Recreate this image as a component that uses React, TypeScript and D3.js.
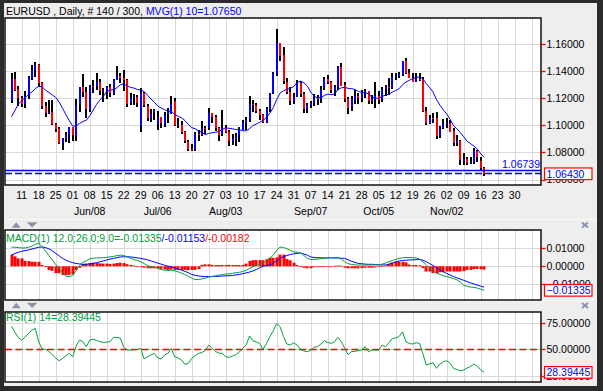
import React, { useEffect, useRef } from 'react';
import * as d3 from 'd3';

// EURUSD daily bars, 6 May - 17 Nov 2015 (140 bars shown)
const opens = [
  1.1183, 1.1345, 1.1265, 1.1200, 1.1157, 1.1214, 1.1347, 1.1410, 1.1446, 1.1316,
  1.1146, 1.1093, 1.1101, 1.1013, 1.0975, 1.0873, 1.0899, 1.0932, 1.0987, 1.0927,
  1.1152, 1.1281, 1.1243, 1.1115, 1.1290, 1.1290, 1.1321, 1.1257, 1.1264, 1.1286,
  1.1242, 1.1335, 1.1365, 1.1350, 1.1337, 1.1163, 1.1201, 1.1206, 1.0990, 1.1236,
  1.1146, 1.1054, 1.1087, 1.1010, 1.1058, 1.1015, 1.1080, 1.1095, 1.1180, 1.1003,
  1.1003, 1.0950, 1.0880, 1.0826, 1.0823, 1.0935, 1.0930, 1.0983, 1.0982, 1.1089,
  1.1061, 1.0982, 1.0933, 1.0980, 1.0954, 1.0885, 1.0901, 1.0924, 1.0970, 1.1018,
  1.1040, 1.1158, 1.1148, 1.1104, 1.1078, 1.1025, 1.1122, 1.1239, 1.1384, 1.1610,
  1.1516, 1.1323, 1.1248, 1.1185, 1.1211, 1.1313, 1.1229, 1.1117, 1.1150, 1.1168,
  1.1204, 1.1200, 1.1271, 1.1339, 1.1318, 1.1261, 1.1286, 1.1432, 1.1295, 1.1193,
  1.1130, 1.1184, 1.1214, 1.1196, 1.1243, 1.1252, 1.1177, 1.1194, 1.1216, 1.1190,
  1.1266, 1.1283, 1.1276, 1.1358, 1.1361, 1.1379, 1.1474, 1.1384, 1.1349, 1.1322,
  1.1345, 1.1343, 1.1108, 1.1016, 1.1055, 1.1053, 1.0921, 1.0975, 1.1007, 1.1018,
  1.0955, 1.0864, 1.0881, 1.0739, 1.0751, 1.0722, 1.0733, 1.0813, 1.0735, 1.0685,
];
const highs = [
  1.1388, 1.1391, 1.1292, 1.1219, 1.1254, 1.1367, 1.1445, 1.1467, 1.1451, 1.1322,
  1.1174, 1.1186, 1.1186, 1.1020, 1.0990, 1.0905, 1.0950, 1.0988, 1.0990, 1.1196,
  1.1285, 1.1380, 1.1282, 1.1295, 1.1334, 1.1385, 1.1339, 1.1278, 1.1287, 1.1304,
  1.1339, 1.1436, 1.1389, 1.1410, 1.1340, 1.1239, 1.1228, 1.1222, 1.1279, 1.1247,
  1.1154, 1.1118, 1.1122, 1.1109, 1.1064, 1.1097, 1.1126, 1.1215, 1.1200, 1.1055,
  1.1033, 1.0960, 1.0893, 1.0859, 1.0951, 1.0966, 1.1030, 1.0997, 1.1129, 1.1094,
  1.1073, 1.0987, 1.1114, 1.0999, 1.0967, 1.0934, 1.0945, 1.0985, 1.1036, 1.1060,
  1.1214, 1.1187, 1.1165, 1.1124, 1.1082, 1.1135, 1.1242, 1.1390, 1.1714, 1.1611,
  1.1577, 1.1347, 1.1286, 1.1236, 1.1332, 1.1330, 1.1243, 1.1162, 1.1178, 1.1232,
  1.1226, 1.1293, 1.1354, 1.1371, 1.1330, 1.1298, 1.1437, 1.1460, 1.1317, 1.1212,
  1.1214, 1.1260, 1.1240, 1.1259, 1.1267, 1.1257, 1.1224, 1.1317, 1.1254, 1.1281,
  1.1295, 1.1346, 1.1387, 1.1387, 1.1395, 1.1475, 1.1495, 1.1416, 1.1389, 1.1387,
  1.1387, 1.1357, 1.1135, 1.1076, 1.1094, 1.1096, 1.0994, 1.1049, 1.1056, 1.1037,
  1.0984, 1.0926, 1.0895, 1.0794, 1.0766, 1.0763, 1.0830, 1.0817, 1.0770, 1.0696,
];
const lows = [
  1.1165, 1.1252, 1.1141, 1.1135, 1.1130, 1.1198, 1.1331, 1.1360, 1.1282, 1.1120,
  1.1062, 1.1080, 1.1005, 1.0953, 1.0866, 1.0819, 1.0874, 1.0867, 1.0886, 1.0888,
  1.1104, 1.1210, 1.1050, 1.1098, 1.1241, 1.1263, 1.1220, 1.1177, 1.1188, 1.1207,
  1.1221, 1.1330, 1.1312, 1.1256, 1.1133, 1.1154, 1.1150, 1.1134, 1.0955, 1.1135,
  1.1032, 1.1024, 1.1040, 1.0968, 1.0985, 1.0986, 1.1017, 1.1083, 1.0991, 1.0983,
  1.0940, 1.0868, 1.0809, 1.0807, 1.0808, 1.0886, 1.0919, 1.0935, 1.0966, 1.1021,
  1.0957, 1.0887, 1.0921, 1.0937, 1.0848, 1.0853, 1.0852, 1.0872, 1.0961, 1.0961,
  1.1025, 1.1096, 1.1088, 1.1040, 1.1017, 1.1018, 1.1105, 1.1228, 1.1369, 1.1479,
  1.1307, 1.1226, 1.1156, 1.1155, 1.1211, 1.1213, 1.1087, 1.1085, 1.1130, 1.1146,
  1.1150, 1.1165, 1.1260, 1.1302, 1.1242, 1.1218, 1.1263, 1.1290, 1.1167, 1.1088,
  1.1106, 1.1160, 1.1160, 1.1168, 1.1203, 1.1160, 1.1160, 1.1128, 1.1157, 1.1170,
  1.1215, 1.1218, 1.1271, 1.1335, 1.1351, 1.1368, 1.1380, 1.1347, 1.1320, 1.1317,
  1.1331, 1.1098, 1.0999, 1.1007, 1.1019, 1.0897, 1.0904, 1.0972, 1.0985, 1.0945,
  1.0850, 1.0847, 1.0709, 1.0706, 1.0707, 1.0712, 1.0712, 1.0727, 1.0674, 1.0632,
];
const closes = [
  1.1345, 1.1265, 1.1200, 1.1157, 1.1214, 1.1347, 1.1410, 1.1446, 1.1316, 1.1146,
  1.1093, 1.1101, 1.1013, 1.0975, 1.0873, 1.0899, 1.0932, 1.0987, 1.0927, 1.1152,
  1.1281, 1.1243, 1.1115, 1.1290, 1.1288, 1.1321, 1.1257, 1.1264, 1.1286, 1.1242,
  1.1335, 1.1365, 1.1350, 1.1337, 1.1163, 1.1201, 1.1206, 1.1165, 1.1236, 1.1146,
  1.1054, 1.1087, 1.1112, 1.1058, 1.1015, 1.1080, 1.1095, 1.1159, 1.1003, 1.1005,
  1.0950, 1.0880, 1.0826, 1.0823, 1.0935, 1.0930, 1.0983, 1.0982, 1.1089, 1.1061,
  1.0982, 1.0933, 1.0980, 1.0954, 1.0885, 1.0901, 1.0924, 1.0970, 1.1018, 1.1040,
  1.1158, 1.1148, 1.1104, 1.1078, 1.1025, 1.1122, 1.1239, 1.1384, 1.1610, 1.1516,
  1.1323, 1.1248, 1.1185, 1.1211, 1.1313, 1.1229, 1.1117, 1.1150, 1.1168, 1.1204,
  1.1200, 1.1271, 1.1339, 1.1318, 1.1261, 1.1286, 1.1432, 1.1295, 1.1193, 1.1130,
  1.1184, 1.1214, 1.1196, 1.1243, 1.1252, 1.1177, 1.1194, 1.1216, 1.1190, 1.1266,
  1.1283, 1.1276, 1.1358, 1.1361, 1.1379, 1.1474, 1.1384, 1.1349, 1.1322, 1.1345,
  1.1343, 1.1108, 1.1016, 1.1055, 1.1053, 1.0921, 1.0975, 1.1007, 1.1018, 1.0955,
  1.0864, 1.0881, 1.0739, 1.0751, 1.0722, 1.0733, 1.0813, 1.0769, 1.0685, 1.0643,
];

// MVG(1) 10
const mvg10 = [
  1.1064, 1.1110, 1.1155, 1.1182, 1.1205, 1.1228, 1.1246, 1.1271, 1.1288, 1.1285,
  1.1259, 1.1243, 1.1224, 1.1206, 1.1172, 1.1127, 1.1079, 1.1034, 1.0995, 1.0995,
  1.1014, 1.1028, 1.1038, 1.1070, 1.1112, 1.1154, 1.1186, 1.1214, 1.1250, 1.1259,
  1.1264, 1.1277, 1.1300, 1.1305, 1.1292, 1.1280, 1.1275, 1.1265, 1.1260, 1.1250,
  1.1222, 1.1195, 1.1171, 1.1143, 1.1128, 1.1116, 1.1105, 1.1104, 1.1081, 1.1067,
  1.1056, 1.1036, 1.1007, 1.0983, 1.0975, 1.0960, 1.0949, 1.0932, 1.0940, 1.0946,
  1.0949, 1.0954, 1.0970, 1.0983, 1.0978, 1.0975, 1.0969, 1.0968, 1.0961, 1.0959,
  1.0976, 1.0998, 1.1010, 1.1023, 1.1037, 1.1059, 1.1090, 1.1132, 1.1191, 1.1238,
  1.1255, 1.1265, 1.1273, 1.1286, 1.1315, 1.1326, 1.1314, 1.1290, 1.1246, 1.1215,
  1.1203, 1.1205, 1.1220, 1.1231, 1.1226, 1.1231, 1.1263, 1.1277, 1.1280, 1.1273,
  1.1271, 1.1265, 1.1251, 1.1243, 1.1243, 1.1232, 1.1208, 1.1200, 1.1200, 1.1213,
  1.1223, 1.1229, 1.1246, 1.1257, 1.1270, 1.1300, 1.1319, 1.1332, 1.1345, 1.1353,
  1.1359, 1.1342, 1.1308, 1.1278, 1.1245, 1.1190, 1.1149, 1.1115, 1.1084, 1.1045,
  1.0997, 1.0975, 1.0947, 1.0916, 1.0883, 1.0865, 1.0848, 1.0825, 1.0791, 1.0765,
];

// MACD(1) 12;26;9
const macdLine = [
  0.0107, 0.0106, 0.0104, 0.0102, 0.0102, 0.0106, 0.0112, 0.0122, 0.0126, 0.0110,
  0.0085, 0.0060, 0.0035, 0.0010, -0.0012, -0.0035, -0.0055, -0.0058, -0.0050, -0.0025,
  0.0005, 0.0022, 0.0030, 0.0042, 0.0045, 0.0047, 0.0047, 0.0048, 0.0050, 0.0052,
  0.0055, 0.0059, 0.0062, 0.0060, 0.0052, 0.0045, 0.0038, 0.0032, 0.0025, 0.0015,
  0.0005, -0.0002, -0.0006, -0.0012, -0.0018, -0.0021, -0.0023, -0.0022, -0.0025, -0.0030,
  -0.0038, -0.0046, -0.0055, -0.0065, -0.0074, -0.0073, -0.0070, -0.0066, -0.0060, -0.0056,
  -0.0053, -0.0049, -0.0046, -0.0043, -0.0042, -0.0039, -0.0036, -0.0033, -0.0029, -0.0022,
  -0.0012, -0.0003, 0.0006, 0.0012, 0.0018, 0.0032, 0.0046, 0.0062, 0.0090, 0.0107,
  0.0104, 0.0098, 0.0088, 0.0080, 0.0078, 0.0076, 0.0060, 0.0044, 0.0038, 0.0038,
  0.0040, 0.0042, 0.0044, 0.0046, 0.0048, 0.0048, 0.0050, 0.0040, 0.0025, 0.0015,
  0.0010, 0.0008, 0.0007, 0.0007, 0.0007, 0.0007, 0.0008, 0.0008, 0.0008, 0.0012,
  0.0018, 0.0025, 0.0032, 0.0038, 0.0044, 0.0048, 0.0049, 0.0049, 0.0048, 0.0047,
  0.0040, 0.0025, 0.0008, -0.0011, -0.0025, -0.0038, -0.0045, -0.0052, -0.0057, -0.0062,
  -0.0068, -0.0075, -0.0088, -0.0105, -0.0111, -0.0116, -0.0117, -0.0121, -0.0127, -0.01335,
];
const macdSignal = [
  0.0062, 0.0071, 0.0078, 0.0083, 0.0087, 0.0091, 0.0096, 0.0101, 0.0106, 0.0107,
  0.0104, 0.0097, 0.0086, 0.0072, 0.0058, 0.0044, 0.0034, 0.0026, 0.0020, 0.0016,
  0.0013, 0.0011, 0.0011, 0.0013, 0.0016, 0.0020, 0.0025, 0.0030, 0.0035, 0.0040,
  0.0044, 0.0048, 0.0052, 0.0053, 0.0053, 0.0052, 0.0050, 0.0047, 0.0044, 0.0040,
  0.0036, 0.0030, 0.0024, 0.0018, 0.0012, 0.0006, 0.0001, -0.0003, -0.0009, -0.0015,
  -0.0021, -0.0028, -0.0036, -0.0045, -0.0050, -0.0054, -0.0056, -0.0057, -0.0057, -0.0057,
  -0.0056, -0.0055, -0.0054, -0.0053, -0.0052, -0.0051, -0.0048, -0.0045, -0.0041, -0.0037,
  -0.0032, -0.0026, -0.0018, -0.0008, 0.0000, 0.0004, 0.0008, 0.0018, 0.0030, 0.0044,
  0.0054, 0.0060, 0.0065, 0.0069, 0.0072, 0.0074, 0.0068, 0.0062, 0.0052, 0.0049,
  0.0048, 0.0047, 0.0047, 0.0047, 0.0047, 0.0046, 0.0046, 0.0045, 0.0044, 0.0036,
  0.0028, 0.0022, 0.0016, 0.0014, 0.0012, 0.0011, 0.0011, 0.0010, 0.0009, 0.0008,
  0.0007, 0.0012, 0.0018, 0.0025, 0.0029, 0.0032, 0.0034, 0.0035, 0.0036, 0.0037,
  0.0038, 0.0034, 0.0025, 0.0015, 0.0004, -0.0008, -0.0020, -0.0030, -0.0040, -0.0048,
  -0.0057, -0.0064, -0.0071, -0.0078, -0.0085, -0.0092, -0.0098, -0.0104, -0.0110, -0.01153,
];
const macdHist = [
  0.0065, 0.0055, 0.0044, 0.0044, 0.0030, 0.0029, 0.0025, 0.0025, 0.0025, 0.0007,
  0.0000, -0.0020, -0.0025, -0.0038, -0.0038, -0.0048, -0.0048, -0.0048, -0.0045, -0.0020,
  -0.0008, 0.0012, 0.0015, 0.0018, 0.0020, 0.0018, 0.0016, 0.0015, 0.0015, 0.0013,
  0.0015, 0.0018, 0.0020, 0.0018, 0.0012, 0.0008, 0.0004, -0.0002, -0.0004, -0.0008,
  -0.0011, -0.0011, -0.0011, -0.0011, -0.0014, -0.0018, -0.0020, -0.0018, -0.0020, -0.0020,
  -0.0020, -0.0020, -0.0022, -0.0020, -0.0020, -0.0015, 0.0008, 0.0011, 0.0011, 0.0008,
  0.0007, 0.0007, 0.0007, 0.0007, 0.0008, 0.0007, 0.0007, 0.0007, 0.0008, 0.0015,
  0.0030, 0.0034, 0.0034, 0.0034, 0.0034, 0.0040, 0.0047, 0.0047, 0.0050, 0.0065,
  0.0065, 0.0040, 0.0034, 0.0020, 0.0007, 0.0002, -0.0008, -0.0011, -0.0011, -0.0005,
  -0.0003, -0.0003, -0.0003, -0.0003, -0.0003, 0.0003, 0.0004, 0.0003, -0.0008, -0.0011,
  -0.0011, -0.0011, -0.0011, -0.0010, -0.0008, -0.0008, -0.0008, -0.0006, 0.0002, 0.0003,
  0.0005, 0.0012, 0.0020, 0.0025, 0.0025, 0.0025, 0.0022, 0.0010, 0.0007, 0.0007,
  0.0006, -0.0010, -0.0029, -0.0029, -0.0038, -0.0038, -0.0033, -0.0033, -0.0029, -0.0029,
  -0.0029, -0.0029, -0.0029, -0.0027, -0.0020, -0.0020, -0.0015, -0.0015, -0.0016, -0.00182,
];

// RSI(1) 14
const rsi14 = [
  71.8, 66, 61, 58.7, 61.5, 65, 68, 69.7, 57, 50.5,
  50, 48, 45, 42, 39.3, 41.5, 44, 46.2, 43.1, 53,
  58.7, 57.2, 52.5, 58.7, 59.5, 58.5, 57.2, 56.6, 56.8, 57.2,
  61.2, 61.2, 60.5, 52, 49.3, 49.3, 49.6, 49.8, 51, 41,
  43, 44.7, 46.2, 42, 40.9, 44.7, 46.2, 50.9, 43, 42,
  40, 36, 36.8, 41.5, 44, 46.2, 47, 49, 54, 51,
  48, 46.5, 46.2, 43, 42.5, 43.7, 45, 47.5, 50.9, 54,
  62.5, 58, 57, 55.6, 50, 55.6, 62, 67.5, 74.3, 71.2,
  62, 55, 54, 56.2, 54, 50, 48.5, 47.8, 49, 52,
  52.5, 55, 58, 56.5, 55.6, 57, 61.2, 57.2, 51, 45,
  47.8, 48.2, 48.7, 49.5, 52.5, 47.8, 49.3, 49.3, 49.3, 54,
  52.5, 56.2, 60.3, 60.6, 62, 66.5, 57.2, 55.5, 55, 56.2,
  55.6, 46, 35.3, 36.5, 37.5, 32.2, 36.2, 38.4, 39.3, 37,
  32.2, 31, 30, 30.6, 32.5, 34, 36.2, 34, 31, 28.39445,
];

// weekly (Monday) labels and month labels
const weekLabels = ['11', '18', '25', '01', '08', '15', '22', '29', '06', '13', '20', '27', '03', '10', '17',
  '24', '31', '07', '14', '21', '28', '05', '12', '19', '26', '02', '09', '16', '23', '30'];
const monthLabels = ['Jun/08', 'Jul/06', 'Aug/03', 'Sep/07', 'Oct/05', 'Nov/02'];
const monthWeeks = [4, 8, 12, 17, 21, 25];

const priceTicks = [1.06, 1.08, 1.10, 1.12, 1.14, 1.16];
const macdTicks = [-0.01, 0, 0.01];
const rsiTicks = [25, 50, 75];
const hLineLevel = 1.06739;

const FONT = '"Liberation Sans", Arial, sans-serif';
const GREEN = '#00a03c';
const BLUE = '#0000ff';
const RED = '#ff0000';
const GRID = '#d9d9d9';
const ICON = '#8794aa';

export default function App() {
  const svgRef = useRef<SVGSVGElement>(null);

  useEffect(() => {
    if (!svgRef.current) return;
    const svg = d3.select(svgRef.current);
    svg.selectAll('*').remove();

    const left = 5, right = 541;
    const mainP = { top: 18, bottom: 185 };
    const macdP = { top: 230, bottom: 300 };
    const rsiP = { top: 312, bottom: 382 };

    const x = d3.scaleLinear().domain([0, 139]).range([11.5, 484.1]);
    const yPrice = d3.scaleLinear().domain([1.06, 1.16]).range([179.6, 44]);
    const yMacd = d3.scaleLinear().domain([-0.01, 0.01]).range([284.3, 248.3]);
    const yRsi = d3.scaleLinear().domain([25, 75]).range([376, 322.7]);

    // window frame
    svg.append('rect').attr('width', 603).attr('height', 391).attr('fill', '#2b2b2b');
    svg.append('rect').attr('x', 4).attr('y', 3).attr('width', 593).attr('height', 383).attr('fill', '#eeeeee');

    const weekX = d3.range(31).map(k => x(3 + 5 * k));

    const panel = (p: { top: number; bottom: number }, ticks: number[], y: d3.ScaleLinear<number, number>) => {
      svg.append('rect')
        .attr('x', left).attr('y', p.top)
        .attr('width', right - left).attr('height', p.bottom - p.top)
        .attr('fill', '#ffffff');
      const g = svg.append('g');
      weekX.forEach(wx => {
        g.append('line')
          .attr('x1', Math.round(wx) + 0.5).attr('x2', Math.round(wx) + 0.5)
          .attr('y1', p.top).attr('y2', p.bottom)
          .attr('stroke', GRID);
      });
      ticks.forEach(t => {
        const yy = Math.round(y(t)) + 0.5;
        g.append('line')
          .attr('x1', left).attr('x2', right)
          .attr('y1', yy).attr('y2', yy)
          .attr('stroke', GRID);
      });
    };

    const axisLabels = (ticks: number[], y: d3.ScaleLinear<number, number>, fmt: (v: number) => string) => {
      ticks.forEach(t => {
        const yy = y(t);
        svg.append('line')
          .attr('x1', right).attr('x2', right + 4.5)
          .attr('y1', Math.round(yy) + 0.5).attr('y2', Math.round(yy) + 0.5)
          .attr('stroke', RED).attr('stroke-width', 1.3);
        svg.append('text')
          .attr('x', right + 5.5).attr('y', yy + 3.8)
          .style('font-family', FONT).style('font-size', '10.5px')
          .attr('fill', '#000')
          .text(fmt(t));
      });
    };

    const valueBox = (yy: number, label: string) => {
      svg.append('rect')
        .attr('x', 544.5).attr('y', yy - 5.8)
        .attr('width', 47.5).attr('height', 11.6)
        .attr('fill', '#ffffff').attr('stroke', RED).attr('stroke-width', 1.2);
      svg.append('text')
        .attr('x', 546.5).attr('y', yy + 3.8)
        .style('font-family', FONT).style('font-size', '10.5px')
        .attr('fill', BLUE)
        .text(label);
    };

    const border = (p: { top: number; bottom: number }) => {
      svg.append('rect')
        .attr('x', left).attr('y', p.top)
        .attr('width', right - left).attr('height', p.bottom - p.top)
        .attr('fill', 'none').attr('stroke', '#000').attr('stroke-width', 1.4);
    };

    const fmt5 = d3.format('.5f');

    // ---- main price panel
    panel(mainP, priceTicks, yPrice);

    const bars = svg.append('g');
    closes.forEach((c, i) => {
      const bx = Math.round(x(i));
      bars.append('rect')
        .attr('x', bx - 1).attr('width', 2)
        .attr('y', Math.round(yPrice(highs[i])))
        .attr('height', Math.max(1, Math.round(yPrice(lows[i]) - yPrice(highs[i]))))
        .attr('fill', '#000');
      const o = opens[i];
      bars.append('rect')
        .attr('x', bx - 1).attr('width', 2)
        .attr('y', Math.round(yPrice(Math.max(o, c))))
        .attr('height', Math.max(1, Math.round(Math.abs(yPrice(o) - yPrice(c)))))
        .attr('fill', c >= o ? BLUE : RED);
    });

    const maLine = d3.line<number>().x((_, i) => x(i)).y(d => yPrice(d));
    svg.append('path').datum(mvg10)
      .attr('d', maLine).attr('fill', 'none').attr('stroke', BLUE).attr('stroke-width', 1);

    // horizontal level + current price
    const lvY = Math.round(yPrice(hLineLevel)) + 0.5;
    svg.append('line').attr('x1', left).attr('x2', right).attr('y1', lvY).attr('y2', lvY)
      .attr('stroke', BLUE).attr('stroke-width', 1.3);
    svg.append('text').attr('x', right - 1).attr('y', lvY - 3)
      .attr('text-anchor', 'end')
      .style('font-family', FONT).style('font-size', '10.5px')
      .attr('fill', BLUE).text(fmt5(hLineLevel));
    const lastY = yPrice(closes[closes.length - 1]);
    svg.append('line').attr('x1', left).attr('x2', right)
      .attr('y1', Math.round(lastY) - 0.5).attr('y2', Math.round(lastY) - 0.5)
      .attr('stroke', BLUE).attr('stroke-width', 1.3).attr('stroke-dasharray', '7,3');

    border(mainP);
    axisLabels(priceTicks, yPrice, fmt5);
    valueBox(lastY, fmt5(closes[closes.length - 1]));

    // title
    const title = svg.append('text').attr('x', 6).attr('y', 15)
      .style('font-family', FONT).style('font-size', '10.5px');
    title.append('tspan').attr('fill', '#000').text('EURUSD , Daily, # 140 / 300, ');
    title.append('tspan').attr('fill', BLUE).text('MVG(1) 10=' + fmt5(mvg10[mvg10.length - 1]));

    // date axis
    weekLabels.forEach((lab, k) => {
      svg.append('text').attr('x', weekX[k]).attr('y', 199)
        .attr('text-anchor', 'middle')
        .style('font-family', FONT).style('font-size', '10.5px')
        .attr('fill', '#000').text(lab);
    });
    monthLabels.forEach((lab, j) => {
      svg.append('text').attr('x', weekX[monthWeeks[j]]).attr('y', 214.5)
        .attr('text-anchor', 'middle')
        .style('font-family', FONT).style('font-size', '10.5px')
        .attr('fill', '#000').text(lab);
    });

    // separators with up/down arrows and close icon
    const separator = (cy: number) => {
      svg.append('line').attr('x1', 4).attr('x2', 597)
        .attr('y1', cy - 5.5).attr('y2', cy - 5.5)
        .attr('stroke', '#f8f8f8').attr('stroke-width', 1);
      svg.append('path')
        .attr('d', `M11.7,${cy + 2.7} L16.2,${cy - 2.7} L20.7,${cy + 2.7} Z`)
        .attr('fill', ICON);
      svg.append('path')
        .attr('d', `M26.7,${cy - 2.7} L37.5,${cy - 2.7} L32.1,${cy + 2.5} Z`)
        .attr('fill', ICON);
      const cx = 585;
      svg.append('path')
        .attr('d', `M${cx - 3},${cy - 2.5} L${cx + 3},${cy + 2.5} M${cx + 3},${cy - 2.5} L${cx - 3},${cy + 2.5}`)
        .attr('stroke', ICON).attr('stroke-width', 2);
    };
    separator(225);
    separator(305.5);

    // ---- MACD panel
    panel(macdP, macdTicks, yMacd);
    const hist = svg.append('g');
    macdHist.forEach((h, i) => {
      const y0 = yMacd(0), y1 = yMacd(h);
      hist.append('rect')
        .attr('x', Math.round(x(i)) - 1.5).attr('width', 3)
        .attr('y', Math.min(y0, y1)).attr('height', Math.max(0.8, Math.abs(y1 - y0)))
        .attr('fill', RED);
    });
    const macdPath = d3.line<number>().x((_, i) => x(i)).y(d => yMacd(d));
    svg.append('path').datum(macdSignal)
      .attr('d', macdPath).attr('fill', 'none').attr('stroke', BLUE).attr('stroke-width', 1);
    svg.append('path').datum(macdLine)
      .attr('d', macdPath).attr('fill', 'none').attr('stroke', GREEN).attr('stroke-width', 1);

    const macdTitle = svg.append('text').attr('x', 6).attr('y', 241.5)
      .style('font-family', FONT).style('font-size', '10.5px');
    macdTitle.append('tspan').attr('fill', GREEN).text('MACD(1) 12.0;26.0;9.0=-0.01335');
    macdTitle.append('tspan').attr('fill', BLUE).text('/-0.01153');
    macdTitle.append('tspan').attr('fill', RED).text('/-0.00182');

    border(macdP);
    axisLabels(macdTicks, yMacd, fmt5);
    valueBox(yMacd(macdLine[macdLine.length - 1]), fmt5(macdLine[macdLine.length - 1]));

    // ---- RSI panel
    panel(rsiP, rsiTicks, yRsi);
    const y50 = Math.round(yRsi(50)) + 0.5;
    svg.append('line').attr('x1', left).attr('x2', right).attr('y1', y50).attr('y2', y50)
      .attr('stroke', RED).attr('stroke-width', 1.3).attr('stroke-dasharray', '7,3.5');
    const rsiPath = d3.line<number>().x((_, i) => x(i)).y(d => yRsi(d));
    svg.append('path').datum(rsi14)
      .attr('d', rsiPath).attr('fill', 'none').attr('stroke', GREEN).attr('stroke-width', 1);

    svg.append('text').attr('x', 6).attr('y', 321)
      .style('font-family', FONT).style('font-size', '10.5px')
      .attr('fill', GREEN).text('RSI(1) 14=' + fmt5(rsi14[rsi14.length - 1]));

    border(rsiP);
    axisLabels(rsiTicks, yRsi, fmt5);
    valueBox(yRsi(rsi14[rsi14.length - 1]), fmt5(rsi14[rsi14.length - 1]));
  }, []);

  return (
    <svg
      ref={svgRef}
      width={603}
      height={391}
      style={{ position: 'fixed', left: 0, top: 0, display: 'block' }}
    />
  );
}
